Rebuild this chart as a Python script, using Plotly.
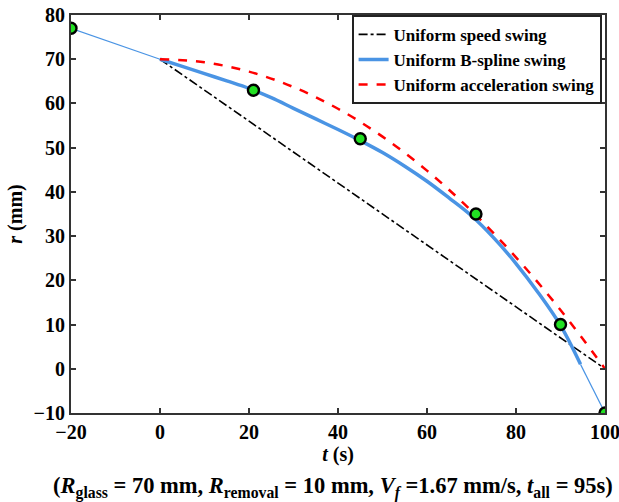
import plotly.graph_objects as go

# Uniform speed swing (straight line)
speed_t = [0, 100]
speed_r = [70, 0]

# Uniform acceleration swing
acc_t = [0, 10, 20, 30, 40, 50, 60, 70, 80, 90, 100]
acc_r = [70, 69.3, 67.2, 63.7, 58.8, 52.5, 44.8, 35.7, 25.2, 13.3, 0]

# Uniform B-spline swing (thick curve)
bs_t = [0, 5, 10, 15, 20, 25, 30, 35, 40, 45, 50, 55, 60, 65, 70, 75, 80, 85, 90, 94.5]
bs_r = [70, 68.4, 66.75, 65.1, 63.4, 61.3, 58.9, 56.5, 54.1, 51.6, 48.9, 45.8, 42.4,
        38.6, 34.6, 29.6, 23.8, 17.2, 9.8, 1.0]

# Thin extension segments
ext1_t = [-20, 0]
ext1_r = [77, 70]
ext2_t = [94.5, 100]
ext2_r = [1.0, -10]

# Control points (green markers)
cp_t = [-20, 21, 45, 71, 90, 100]
cp_r = [77, 63, 52, 35, 10, -10]

FONT = "Liberation Serif"
BLUE = "#4A94E4"

fig = go.Figure()
fig.add_trace(go.Scatter(x=ext1_t, y=ext1_r, mode="lines", line=dict(color=BLUE, width=1.2),
                         showlegend=False, hoverinfo="skip"))
fig.add_trace(go.Scatter(x=ext2_t, y=ext2_r, mode="lines", line=dict(color=BLUE, width=1.2),
                         showlegend=False, hoverinfo="skip"))
fig.add_trace(go.Scatter(x=speed_t, y=speed_r, mode="lines", name="Uniform speed swing",
                         line=dict(color="black", width=1.6, dash="dashdot")))
fig.add_trace(go.Scatter(x=bs_t, y=bs_r, mode="lines", name="Uniform B-spline swing",
                         line=dict(color=BLUE, width=3.5, shape="spline", smoothing=1.0)))
fig.add_trace(go.Scatter(x=acc_t, y=acc_r, mode="lines", name="Uniform acceleration swing",
                         line=dict(color="red", width=2.5, dash="dash", shape="spline")))
fig.add_trace(go.Scatter(x=cp_t, y=cp_r, mode="markers", showlegend=False,
                         marker=dict(color="#22E022", size=11, line=dict(color="black", width=2.4))))

axis_common = dict(
    showline=True, linecolor="#333333", linewidth=2, mirror="ticks",
    ticks="inside", ticklen=5, tickwidth=1.5, tickcolor="#333333",
    showgrid=False, zeroline=False, ticklabeloverflow="allow", automargin=False,
    tickfont=dict(family=FONT, size=20, color="black", weight="bold"),
)

fig.update_layout(
    width=619, height=502,
    margin=dict(l=71, r=14, t=15, b=89, autoexpand=False),
    paper_bgcolor="white", plot_bgcolor="white",
    xaxis=dict(range=[-20, 100], tickvals=[-20, 0, 20, 40, 60, 80, 100],
               title=dict(text="<i>t</i> (s)", standoff=2,
                          font=dict(family=FONT, size=20, color="black", weight="bold")),
               **axis_common),
    yaxis=dict(range=[-10, 80], tickvals=[-10, 0, 10, 20, 30, 40, 50, 60, 70, 80],
               title=dict(text="<i>r</i> (mm)", standoff=6,
                          font=dict(family=FONT, size=20, color="black", weight="bold")),
               **axis_common),
    legend=dict(x=0.994, y=1.0, xanchor="right", yanchor="top",
                bgcolor="white", bordercolor="#222222", borderwidth=1.8,
                font=dict(family=FONT, size=17, color="black", weight="bold"),
                tracegroupgap=0, itemwidth=30),
    annotations=[dict(
        text="(<i>R</i><sub>glass</sub> = 70 mm, <i>R</i><sub>removal</sub> = 10 mm, "
             "<i>V<sub>f</sub></i> =1.67 mm/s, <i>t</i><sub>all</sub> = 95s)",
        x=0.49, xref="paper", y=-0.228, yref="paper", xanchor="center", yanchor="bottom",
        showarrow=False, font=dict(family=FONT, size=22.5, color="black", weight="bold"))],
)

fig.write_html("out.html")
